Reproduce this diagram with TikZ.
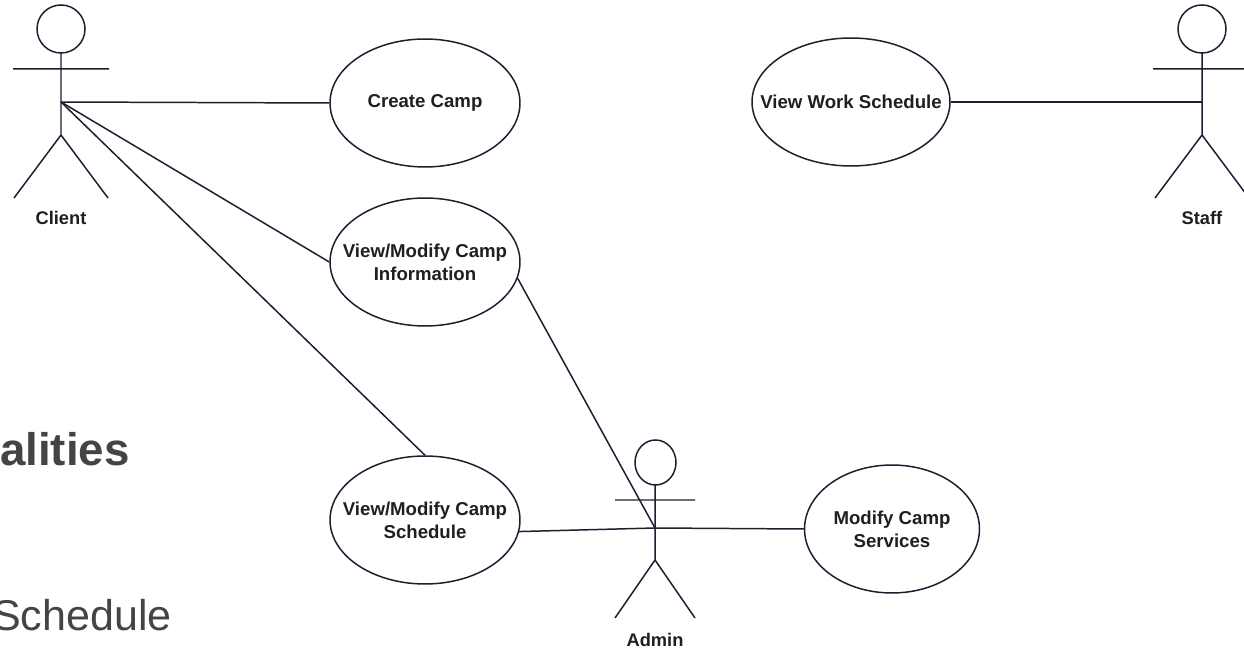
\documentclass[tikz,border=0pt]{standalone}
\usepackage{fontspec}
\setmainfont{Liberation Sans}
\usepackage{xcolor}
\usetikzlibrary{shapes.geometric}

\definecolor{umlline}{HTML}{1E1E32}
\definecolor{slidegray}{HTML}{444444}

\tikzset{
  usecase/.style={draw=umlline, line width=0.85pt, ellipse, fill=white,
    minimum width=3.8cm, minimum height=2.56cm, inner xsep=-0.6cm, inner ysep=0pt,
    align=center, font=\fontsize{10.6}{13}\selectfont\bfseries, text=black!88},
  actorname/.style={font=\fontsize{10.4}{12}\selectfont\bfseries, text=black!88},
  stick/.style={draw=umlline, line width=0.85pt},
  assoc/.style={draw=umlline, line width=0.85pt}
}

\begin{document}
\begin{tikzpicture}[x=0.02cm, y=-0.02cm]
    \useasboundingbox (0,0) rectangle (1244,651);
    % slide text behind the diagram
    \node[anchor=base east, inner sep=0pt, text=slidegray, font=\fontsize{26}{30}\selectfont\bfseries] (slidetitle) at (130,466) {alities};
    \node[anchor=base east, inner sep=0pt, text=slidegray, font=\fontsize{24.5}{28}\selectfont] (slideitem) at (172,630) {Schedule};
    % Client
    \draw[stick] (61,29) circle (24);
    \draw[stick] (61,53) -- (61,135) (13,69) -- (109,69) (14,198) -- (61,135) -- (108,198);
    \coordinate (client) at (61,102);
    \node[actorname] (clientname) at (61,218) {Client};
    % Staff
    \draw[stick] (1202,29) circle (24);
    \draw[stick] (1202,53) -- (1202,135) (1153,69) -- (1251,69) (1155,198) -- (1202,135) -- (1249,198);
    \coordinate (staff) at (1202,102);
    \node[actorname] (staffname) at (1202,218) {Staff};
    % Admin
    \draw[stick] (655.5,462.5) ellipse [x radius=20.5, y radius=22.5];
    \draw[stick] (655,485) -- (655,560) (615,500) -- (695,500) (615,618) -- (655,560) -- (695,618);
    \coordinate (admin) at (655,528);
    \node[actorname] (adminname) at (655,640) {Admin};
    % use cases
    \node[usecase] (create) at (425,103) {Create Camp};
    \node[usecase, minimum width=3.96cm] (work) at (851,102) {View Work Schedule};
    \node[usecase] (info) at (425,262) {View/Modify Camp\\Information};
    \node[usecase] (sched) at (425,520) {View/Modify Camp\\Schedule};
    \node[usecase, minimum width=3.5cm] (services) at (892,529) {Modify Camp\\Services};
    % associations
    \draw[assoc] (client) -- (create.west);
    \draw[assoc] (client) -- (info.west);
    \draw[assoc] (client) -- (sched.north);
    \draw[assoc] (info.-10) -- (admin);
    \draw[assoc] (sched.-7) -- (admin);
    \draw[assoc] (admin) -- (services.west);
    \draw[assoc] (work.east) -- (staff);
  \end{tikzpicture}
\end{document}
